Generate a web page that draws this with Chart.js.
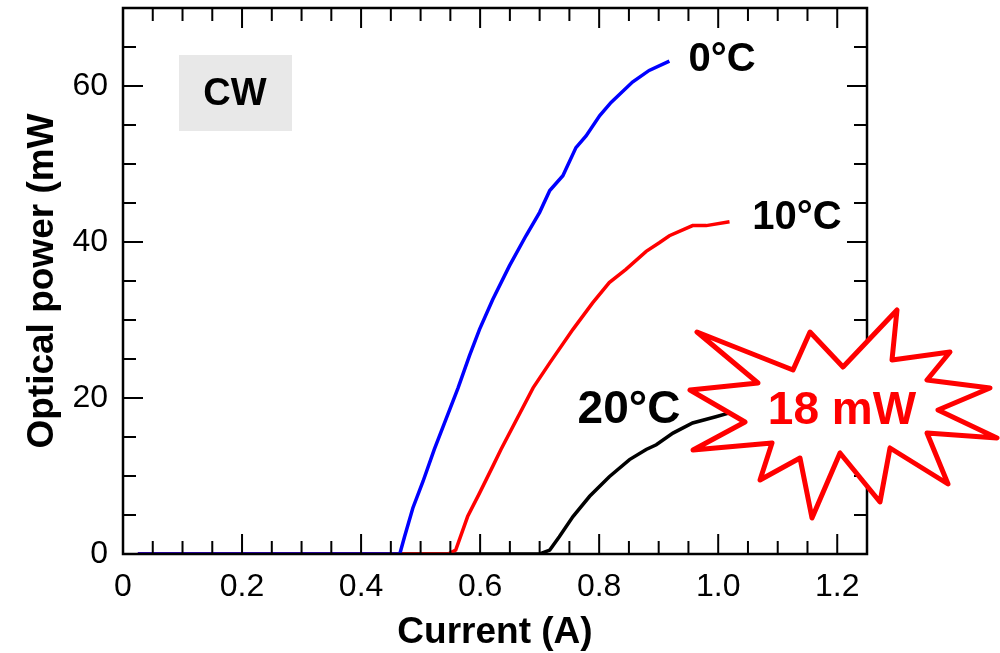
<!DOCTYPE html>
<html>
<head>
<meta charset="utf-8">
<script src="https://cdn.jsdelivr.net/npm/chart.js@4.4.1/dist/chart.umd.min.js"></script>
<style>
  body { margin: 0; background: #fff; }
  #wrap { width: 1000px; height: 653px; }
</style>
</head>
<body>
<div id="wrap"><canvas id="myChart" width="1000" height="653"></canvas></div>
<script>
// datos
const xTicks = [0, 0.2, 0.4, 0.6, 0.8, 1.0, 1.2];
const yTicks = [0, 20, 40, 60];

// 0°C (azul)
const cur0 = [0.025, 0.465, 0.473, 0.487, 0.504, 0.523, 0.563, 0.582, 0.599, 0.621, 0.649, 0.677, 0.700, 0.717, 0.739, 0.761, 0.778, 0.801, 0.820, 0.856, 0.884, 0.918];
const pow0 = [0, 0, 2.2, 5.9, 9.3, 13.4, 21.3, 25.4, 28.8, 32.6, 36.9, 40.8, 43.8, 46.6, 48.5, 52.1, 53.6, 56.2, 57.9, 60.5, 62.0, 63.2];
// 10°C (rojo)
const cur10 = [0.025, 0.546, 0.559, 0.579, 0.599, 0.621, 0.635, 0.689, 0.717, 0.756, 0.789, 0.817, 0.845, 0.879, 0.901, 0.918, 0.957, 0.980, 1.019];
const pow10 = [0, 0, 0.5, 4.8, 7.8, 11.2, 13.4, 21.3, 24.5, 28.8, 32.2, 34.8, 36.5, 38.8, 39.9, 40.8, 42.1, 42.1, 42.6];
// 20°C (negro)
const cur20 = [0.025, 0.700, 0.717, 0.733, 0.756, 0.784, 0.817, 0.851, 0.879, 0.896, 0.924, 0.957, 0.996, 1.019];
const pow20 = [0, 0, 0.5, 2.2, 4.8, 7.4, 9.9, 12.1, 13.4, 14.0, 15.5, 16.8, 17.6, 18.1];

const toPoints = (xs, ys) => xs.map((x, i) => ({ x: x, y: ys[i] }));

// estrella roja (pixeles del lienzo)
const burst = [
  [697, 332], [793, 370], [810, 332], [843, 367], [897, 310], [892, 360],
  [950, 352], [927, 380], [990, 388], [938, 410], [997, 438], [927, 433],
  [948, 484], [890, 448], [880, 502], [840, 453], [812, 518], [800, 458],
  [760, 480], [772, 443], [693, 450], [745, 422], [690, 390], [758, 383]
];

const FONT = "'Liberation Sans', Arial, sans-serif";

const decor = {
  id: 'decor',
  afterDraw(chart) {
    const ctx = chart.ctx;
    const a = chart.chartArea;
    const xs = chart.scales.x, ys = chart.scales.y;
    ctx.save();
    // marco
    ctx.strokeStyle = '#000';
    ctx.lineWidth = 2.5;
    ctx.strokeRect(a.left, a.top, a.right - a.left, a.bottom - a.top);
    // ticks hacia adentro
    ctx.lineWidth = 2;
    ctx.beginPath();
    for (let i = 0; i <= 25; i++) {
      const px = xs.getPixelForValue(i * 0.05);
      const len = i % 4 === 0 ? 20 : 13;
      ctx.moveTo(px, a.bottom); ctx.lineTo(px, a.bottom - len);
      ctx.moveTo(px, a.top); ctx.lineTo(px, a.top + len);
    }
    for (let i = 0; i <= 14; i++) {
      const py = ys.getPixelForValue(i * 5);
      const len = i % 4 === 0 ? 20 : 13;
      ctx.moveTo(a.left, py); ctx.lineTo(a.left + len, py);
      ctx.moveTo(a.right, py); ctx.lineTo(a.right - len, py);
    }
    ctx.stroke();

    // caja CW
    ctx.fillStyle = '#e8e8e8';
    ctx.fillRect(179, 55, 113, 76);
    ctx.fillStyle = '#000';
    ctx.font = 'bold 38px ' + FONT;
    ctx.textAlign = 'center';
    ctx.textBaseline = 'middle';
    ctx.fillText('CW', 235, 95);

    // etiquetas de temperatura
    ctx.font = 'bold 40px ' + FONT;
    ctx.fillText('0°C', 722, 60);
    ctx.fillText('10°C', 797, 218);
    ctx.font = 'bold 46px ' + FONT;
    ctx.fillText('20°C', 629, 410);

    // estrella
    ctx.beginPath();
    burst.forEach((p, i) => i === 0 ? ctx.moveTo(p[0], p[1]) : ctx.lineTo(p[0], p[1]));
    ctx.closePath();
    ctx.fillStyle = '#fff';
    ctx.fill();
    ctx.strokeStyle = '#ff0000';
    ctx.lineWidth = 5;
    ctx.lineJoin = 'round';
    ctx.stroke();
    ctx.fillStyle = '#ff0000';
    ctx.font = 'bold 46px ' + FONT;
    ctx.fillText('18 mW', 842, 411);
    ctx.restore();
  }
};

new Chart(document.getElementById('myChart').getContext('2d'), {
  type: 'scatter',
  data: {
    datasets: [
      { label: '0°C', data: toPoints(cur0, pow0), borderColor: '#0000ff' },
      { label: '10°C', data: toPoints(cur10, pow10), borderColor: '#ff0000' },
      { label: '20°C', data: toPoints(cur20, pow20), borderColor: '#000000' }
    ].map(d => Object.assign(d, { showLine: true, pointRadius: 0, borderWidth: 3.5, tension: 0 }))
  },
  options: {
    responsive: false,
    animation: false,
    layout: { padding: { left: 0, right: 133, top: 8, bottom: 0 } },
    plugins: { legend: { display: false }, tooltip: { enabled: false } },
    scales: {
      x: {
        type: 'linear', min: 0, max: 1.25,
        afterBuildTicks: s => { s.ticks = xTicks.map(v => ({ value: v })); },
        afterFit: s => { s.height = 99; s.paddingLeft = 0; s.paddingRight = 0; },
        grid: { display: false, drawTicks: false },
        border: { display: false },
        ticks: {
          autoSkip: false, maxRotation: 0, padding: 14, color: '#000',
          font: { family: FONT, size: 32 },
          callback: v => v === 0 ? '0' : v.toFixed(1)
        },
        title: {
          display: true, text: 'Current (A)', color: '#000',
          font: { family: FONT, size: 37, weight: 'bold', lineHeight: 1 },
          padding: { top: 0, bottom: 2 }
        }
      },
      y: {
        type: 'linear', min: 0, max: 70,
        afterBuildTicks: s => { s.ticks = yTicks.map(v => ({ value: v })); },
        afterFit: s => { s.width = 123; s.paddingTop = 0; s.paddingBottom = 0; },
        grid: { display: false, drawTicks: false },
        border: { display: false },
        ticks: {
          autoSkip: false, padding: 15, color: '#000',
          font: { family: FONT, size: 32 }
        },
        title: {
          display: true, text: 'Optical power (mW', color: '#000',
          font: { family: FONT, size: 37, weight: 'bold', lineHeight: 1 },
          padding: { top: 24, bottom: 0 }
        }
      }
    }
  },
  plugins: [decor]
});
</script>
</body>
</html>
